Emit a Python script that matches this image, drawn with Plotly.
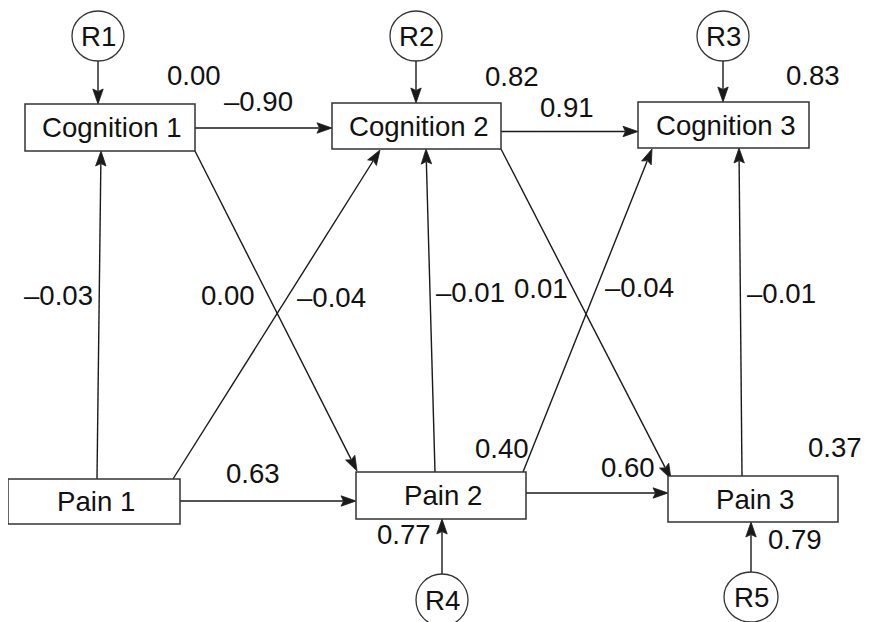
import plotly.graph_objects as go
import math

# ---- data ----
node_names = ["Cognition 1", "Cognition 2", "Cognition 3", "Pain 1", "Pain 2", "Pain 3"]
residual_names = ["R1", "R2", "R3", "R4", "R5"]
node_values = ["0.00", "0.82", "0.83", "0.40", "0.77", "0.37", "0.79"]
path_values = ["\u20130.90", "0.91", "0.63", "0.60",
               "\u20130.03", "0.00", "\u20130.04", "\u20130.01", "0.01", "\u20130.04", "\u20130.01"]

# ---- layout (pixel geometry of the diagram) ----
W, H = 870, 622
PAGE_MARGIN = 8  # default body margin of the html page
boxes = {  # x0, x1, y0, y1
    "Cognition 1": (25, 195, 104, 151),
    "Cognition 2": (332, 501, 103, 149),
    "Cognition 3": (638, 809, 102, 148),
    "Pain 1": (8, 180, 479, 524),
    "Pain 2": (356, 526, 472, 519),
    "Pain 3": (668, 838, 476, 522),
}
circles = {  # cx, cy, rx, ry
    "R1": (98, 36, 26, 25),
    "R2": (416, 36, 26, 25),
    "R3": (723, 36, 26, 25),
    "R4": (442, 600, 26, 26),
    "R5": (751, 597, 27, 25),
}
edges = [  # (x_from, y_from, x_to, y_to)
    (98, 61, 98, 104),
    (416, 61, 416, 103),
    (723, 61, 723, 102),
    (195, 128, 332, 128),
    (501, 131.5, 638, 131.5),
    (97, 479, 101, 151),
    (173, 479, 380, 150),
    (195, 151, 357, 471),
    (180, 501, 356, 501),
    (435, 472, 426, 149),
    (501, 149, 671, 479),
    (523, 472, 652, 149),
    (526, 493, 668, 493),
    (742, 476, 739, 148),
    (442, 574, 442, 519),
    (751, 572, 751, 522),
]
node_value_pos = [(194, 75), (512, 76), (813, 75), (502, 448), (404, 534), (835, 447), (795, 539)]
path_value_pos = [(258, 101), (567, 107), (253, 473), (628, 467),
                  (58, 295), (228, 295), (331, 297), (470, 292), (541, 288), (639, 287), (781, 293)]

FONT = dict(family="Liberation Sans, Arial, sans-serif", size=27.6, color="#111111")
LINE_C = "#1a1a1a"

fig = go.Figure()
shapes = []
annotations = []

# edges with arrowheads
AL, AW = 15, 5.2
for (x0, y0, x1, y1) in edges:
    dx, dy = x1 - x0, y1 - y0
    d = math.hypot(dx, dy)
    ux, uy = dx / d, dy / d
    nx, ny = -uy, ux
    bx, by = x1 - AL * ux, y1 - AL * uy
    shapes.append(dict(type="line", x0=x0, y0=y0, x1=bx + 2 * ux, y1=by + 2 * uy,
                       line=dict(color=LINE_C, width=1.4), xref="x", yref="y"))
    path = (f"M{x1},{y1} L{bx + AW * nx},{by + AW * ny} "
            f"L{bx + 2.5 * ux},{by + 2.5 * uy} L{bx - AW * nx},{by - AW * ny} Z")
    shapes.append(dict(type="path", path=path, fillcolor=LINE_C,
                       line=dict(color=LINE_C, width=0.8), xref="x", yref="y"))

# boxes
for name in node_names:
    x0, x1, y0, y1 = boxes[name]
    shapes.append(dict(type="rect", x0=x0, x1=x1, y0=y0, y1=y1, fillcolor="white",
                       line=dict(color="#333333", width=1.5), xref="x", yref="y"))
    annotations.append(dict(x=(x0 + x1) / 2 + 2, y=(y0 + y1) / 2, text=name, showarrow=False,
                            font=FONT, xanchor="center", yanchor="middle"))

# residual circles
for name in residual_names:
    cx, cy, rx, ry = circles[name]
    shapes.append(dict(type="circle", x0=cx - rx, x1=cx + rx, y0=cy - ry, y1=cy + ry,
                       fillcolor="white", line=dict(color="#333333", width=1.3),
                       xref="x", yref="y"))
    annotations.append(dict(x=cx, y=cy, text=name, showarrow=False, font=FONT,
                            xanchor="center", yanchor="middle"))

for txt, (x, y) in zip(node_values, node_value_pos):
    annotations.append(dict(x=x, y=y, text=txt, showarrow=False, font=FONT,
                            xanchor="center", yanchor="middle"))
for txt, (x, y) in zip(path_values, path_value_pos):
    annotations.append(dict(x=x, y=y, text=txt, showarrow=False, font=FONT,
                            xanchor="center", yanchor="middle"))

fig.update_layout(
    width=W - PAGE_MARGIN, height=H - PAGE_MARGIN,
    margin=dict(l=0, r=0, t=0, b=0),
    paper_bgcolor="white", plot_bgcolor="white",
    xaxis=dict(range=[PAGE_MARGIN, W], visible=False, fixedrange=True),
    yaxis=dict(range=[H, PAGE_MARGIN], visible=False, fixedrange=True),
    shapes=shapes, annotations=annotations, showlegend=False,
)
fig.write_html("out.html")
